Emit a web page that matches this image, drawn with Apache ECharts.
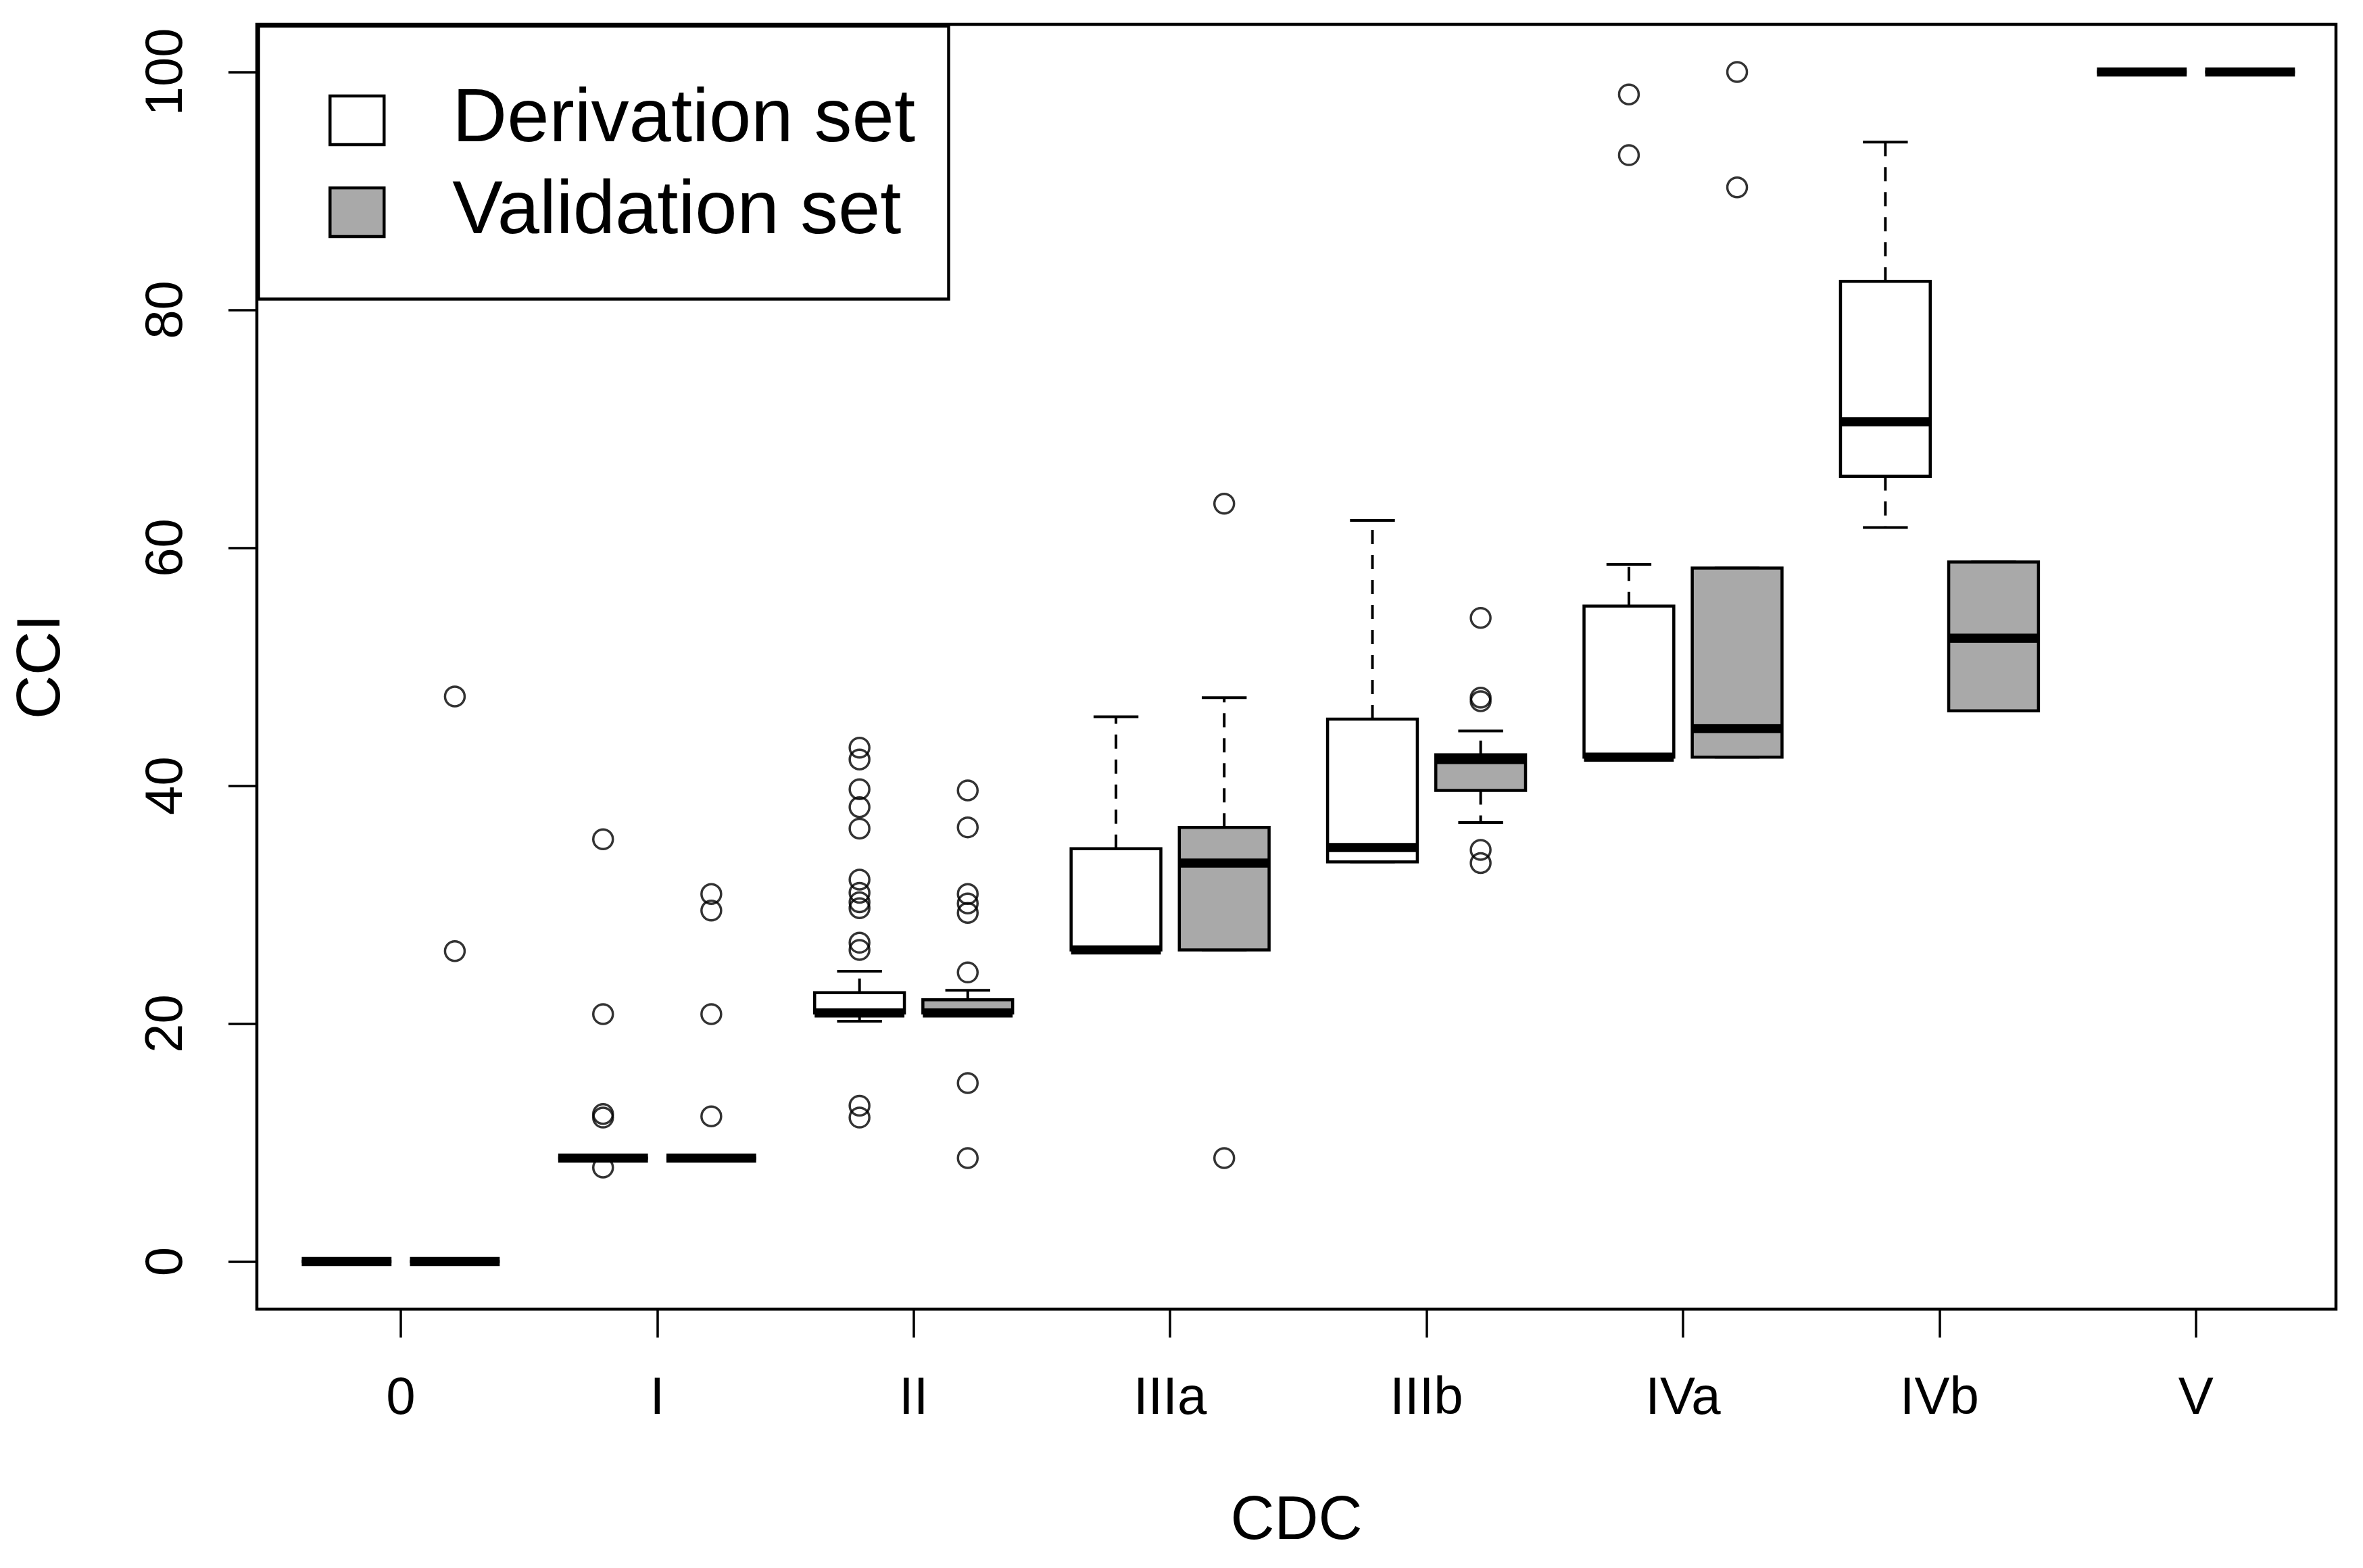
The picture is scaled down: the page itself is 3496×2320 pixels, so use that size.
<!DOCTYPE html>
<html>
<head>
<meta charset="utf-8">
<script src="https://cdn.jsdelivr.net/npm/echarts@6/dist/echarts.min.js"></script>
<style>
  html, body { margin: 0; padding: 0; background: #fff; }
  #main { width: 3496px; height: 2320px; }
</style>
</head>
<body>
<div id="main"></div>
<script>
// CDC grades on the x axis
var categories = ['0', 'I', 'II', 'IIIa', 'IIIb', 'IVa', 'IVb', 'V'];
var yTicks = [0, 20, 40, 60, 80, 100];

// derivation set: whisker low, Q1, median, Q3, whisker high
var derivLow = [0, 8.7, 20.2, 26.2, 33.6, 42.4, 61.7, 100];
var derivQ1 = [0, 8.7, 20.9, 26.2, 33.6, 42.4, 66.0, 100];
var derivMed = [0, 8.7, 20.9, 26.2, 34.8, 42.4, 70.6, 100];
var derivQ3 = [0, 8.7, 22.6, 34.7, 45.6, 55.1, 82.4, 100];
var derivHigh = [0, 8.7, 24.4, 45.8, 62.3, 58.6, 94.1, 100];
// [category index, value]
var derivOutliers = [
    [1, 35.5], [1, 20.8], [1, 12.4], [1, 12.1], [1, 7.9],
    [2, 43.2], [2, 42.2], [2, 39.7], [2, 38.2], [2, 36.4], [2, 32.1], [2, 31.0],
    [2, 30.2], [2, 29.7], [2, 26.8], [2, 26.2], [2, 13.1], [2, 12.1],
    [5, 98.1], [5, 93.0]
];

// validation set
var validLow = [0, 8.7, 20.9, 26.2, 36.9, 42.4, 46.3, 100];
var validQ1 = [0, 8.7, 20.9, 26.2, 39.6, 42.4, 46.3, 100];
var validMed = [0, 8.7, 20.9, 33.5, 42.2, 44.8, 52.4, 100];
var validQ3 = [0, 8.7, 22.0, 36.5, 42.6, 58.3, 58.8, 100];
var validHigh = [0, 8.7, 22.8, 47.4, 44.6, 58.3, 58.8, 100];
var validOutliers = [
    [0, 47.5], [0, 26.1],
    [1, 30.9], [1, 29.5], [1, 20.8], [1, 12.2],
    [2, 39.6], [2, 36.5], [2, 30.9], [2, 30.1], [2, 29.3], [2, 24.3], [2, 15.0], [2, 8.7],
    [3, 63.7], [3, 8.7],
    [4, 54.1], [4, 47.4], [4, 47.1], [4, 34.6], [4, 33.5],
    [5, 100], [5, 90.3]
];

var OFFSET = 0.211;   // half distance between the two boxes of a grade
var BOX_W = 0.35;     // box width in x units
var FONT = "'Liberation Sans', Arial, sans-serif";

function boxData(low, q1, med, q3, high, shift) {
    return categories.map(function (c, i) {
        return [i + shift, low[i], q1[i], med[i], q3[i], high[i]];
    });
}

function outlierData(list, shift) {
    return list.map(function (d) { return [d[0] + shift, d[1]]; });
}

function makeRender(fill) {
    return function (params, api) {
        var x = api.value(0);
        var pLo = api.coord([x, api.value(1)]);
        var pQ1 = api.coord([x, api.value(2)]);
        var pMed = api.coord([x, api.value(3)]);
        var pQ3 = api.coord([x, api.value(4)]);
        var pHi = api.coord([x, api.value(5)]);
        var half = api.size([BOX_W, 0])[0] / 2;
        var cx = pMed[0];
        var whisk = {stroke: '#000', lineWidth: 4, lineDash: [21, 16]};
        var solid = {stroke: '#000', lineWidth: 4};
        return {
            type: 'group',
            children: [
                {type: 'line', shape: {x1: cx, y1: pQ3[1], x2: cx, y2: pHi[1]}, style: whisk},
                {type: 'line', shape: {x1: cx, y1: pQ1[1], x2: cx, y2: pLo[1]}, style: whisk},
                {type: 'line', shape: {x1: cx - half / 2, y1: pHi[1], x2: cx + half / 2, y2: pHi[1]}, style: solid},
                {type: 'line', shape: {x1: cx - half / 2, y1: pLo[1], x2: cx + half / 2, y2: pLo[1]}, style: solid},
                {type: 'rect', shape: {x: cx - half, y: pQ3[1], width: half * 2, height: pQ1[1] - pQ3[1]},
                    style: {fill: fill, stroke: '#000', lineWidth: 4.5}},
                {type: 'line', shape: {x1: cx - half, y1: pMed[1], x2: cx + half, y2: pMed[1]},
                    style: {stroke: '#000', lineWidth: 13.5, lineCap: 'butt'}}
            ]
        };
    };
}

var dom = document.getElementById('main');
var myChart = echarts.init(dom);
var option = {
    animation: false,
    backgroundColor: '#fff',
    grid: {
        left: 380, right: 40, top: 36, bottom: 383,
        show: true, borderColor: '#000', borderWidth: 4.5, backgroundColor: 'transparent'
    },
    legend: {
        orient: 'vertical',
        left: 486, top: 122,
        padding: 0,
        itemWidth: 80, itemHeight: 72, itemGap: 24,
        selectedMode: false,
        textStyle: {fontFamily: FONT, fontSize: 112, color: '#000', padding: [0, 0, 0, 96]},
        data: [
            {name: 'Derivation set', icon: 'rect', itemStyle: {color: '#fff', borderColor: '#000', borderWidth: 4.5}},
            {name: 'Validation set', icon: 'rect', itemStyle: {color: '#a9a9a9', borderColor: '#000', borderWidth: 4.5}}
        ]
    },
    graphic: [{
        type: 'rect', left: 380, top: 36, z: 10,
        shape: {width: 1021, height: 404},
        style: {fill: 'none', stroke: '#000', lineWidth: 4.5}
    }],
    xAxis: {
        type: 'value', min: -0.561, max: 7.546,
        name: 'CDC', nameLocation: 'middle', nameGap: 270,
        nameTextStyle: {fontFamily: FONT, fontSize: 90, color: '#000'},
        splitLine: {show: false},
        axisLine: {show: false, onZero: false},
        axisTick: {show: true, length: 42, customValues: [0, 1, 2, 3, 4, 5, 6, 7],
            lineStyle: {color: '#000', width: 3.5}},
        axisLabel: {customValues: [0, 1, 2, 3, 4, 5, 6, 7], margin: 94,
            fontFamily: FONT, fontSize: 78, color: '#000',
            formatter: function (v) { return categories[Math.round(v)]; }}
    },
    yAxis: {
        type: 'value', min: -4, max: 104,
        name: 'CCI', nameLocation: 'middle', nameGap: 272,
        nameTextStyle: {fontFamily: FONT, fontSize: 90, color: '#000'},
        splitLine: {show: false},
        axisLine: {show: false, onZero: false},
        axisTick: {show: true, length: 42, customValues: yTicks,
            lineStyle: {color: '#000', width: 3.5}},
        axisLabel: {customValues: yTicks, rotate: 90, margin: 94,
            fontFamily: FONT, fontSize: 78, color: '#000'}
    },
    series: [
        {
            name: 'Derivation set', type: 'custom',
            renderItem: makeRender('#fff'),
            itemStyle: {color: '#fff', borderColor: '#000'},
            encode: {x: 0, y: [1, 2, 3, 4, 5]},
            data: boxData(derivLow, derivQ1, derivMed, derivQ3, derivHigh, -OFFSET)
        },
        {
            name: 'Validation set', type: 'custom',
            renderItem: makeRender('#a9a9a9'),
            itemStyle: {color: '#a9a9a9', borderColor: '#000'},
            encode: {x: 0, y: [1, 2, 3, 4, 5]},
            data: boxData(validLow, validQ1, validMed, validQ3, validHigh, OFFSET)
        },
        {
            name: 'derivOut', type: 'scatter', symbol: 'circle', symbolSize: 29,
            itemStyle: {color: 'rgba(0,0,0,0)', borderColor: '#000', borderWidth: 3.5},
            data: outlierData(derivOutliers, -OFFSET)
        },
        {
            name: 'validOut', type: 'scatter', symbol: 'circle', symbolSize: 29,
            itemStyle: {color: 'rgba(0,0,0,0)', borderColor: '#000', borderWidth: 3.5},
            data: outlierData(validOutliers, OFFSET)
        }
    ]
};
myChart.setOption(option, true);
window.onresize = myChart.resize;
</script>
</body>
</html>
